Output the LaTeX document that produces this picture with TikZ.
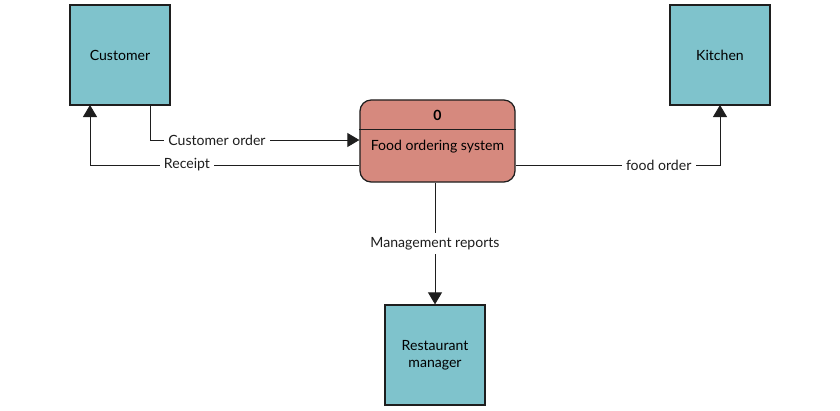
\documentclass[tikz,border=0pt]{standalone}
\usepackage{fontspec}
\setmainfont{Lato}
\usepackage{tikz}
\usetikzlibrary{positioning,arrows.meta,calc}
\definecolor{EntityTeal}{RGB}{127,195,204}
\definecolor{ProcSalmon}{RGB}{214,137,126}
\definecolor{EdgeDark}{RGB}{30,30,30}

\begin{document}
\begin{tikzpicture}[x=0.025cm, y=-0.025cm,
  entity/.style={rectangle, draw=EdgeDark, line width=0.9pt, fill=EntityTeal,
    minimum width=2.5cm, minimum height=2.5cm, font=\fontsize{10}{12}\selectfont,
    align=center},
  procbox/.style={rectangle, rounded corners=8pt, draw=EdgeDark, line width=0.9pt,
    fill=ProcSalmon, minimum width=3.875cm, minimum height=2.05cm},
  ptext/.style={font=\fontsize{10}{12}\selectfont, inner sep=1pt},
  flowlbl/.style={fill=white, font=\fontsize{10}{12}\selectfont, inner sep=3pt},
  farr/.style={-{Triangle[length=3mm, width=3.5mm]}, line width=0.6pt, EdgeDark},
]
\useasboundingbox (0,0) rectangle (840,410);
% External entities
\node[entity] (cust) at (120,55) {Customer};
\node[entity] (kitch) at (720,55) {Kitchen};
\node[entity] (mgr) at (435,355) {Restaurant\\manager};
% Process
\node[procbox] (proc) at (437.5,141) {};
\draw[EdgeDark, line width=0.9pt] ($(proc.north west)+(0,30)$) -- ($(proc.north east)+(0,30)$);
\node[ptext, font=\fontsize{10}{12}\selectfont\bfseries] (pnum) at (437.5,115) {0};
\node[ptext] (pname) at (437.5,147) {Food ordering system};
% Flows
\coordinate (co) at (150,105);
\coordinate (rc) at (90,105);
\coordinate (fo) at (720,105);
\draw[farr] (co) |- ($(proc.west)+(0,-1)$)
  node[flowlbl, pos=0.66] (lco) {Customer order};
\draw[farr] ($(proc.west)+(0,24)$) -| (rc)
  node[flowlbl, pos=0.32] (lrc) {Receipt};
\draw[farr] ($(proc.east)+(0,24)$) -| (fo)
  node[flowlbl, pos=0.35] (lfo) {food order};
\draw[farr] ($(proc.south)+(-2.5,0)$) -- (mgr.north)
  node[flowlbl, pos=0.5] (lmr) {Management reports};
\end{tikzpicture}
\end{document}
